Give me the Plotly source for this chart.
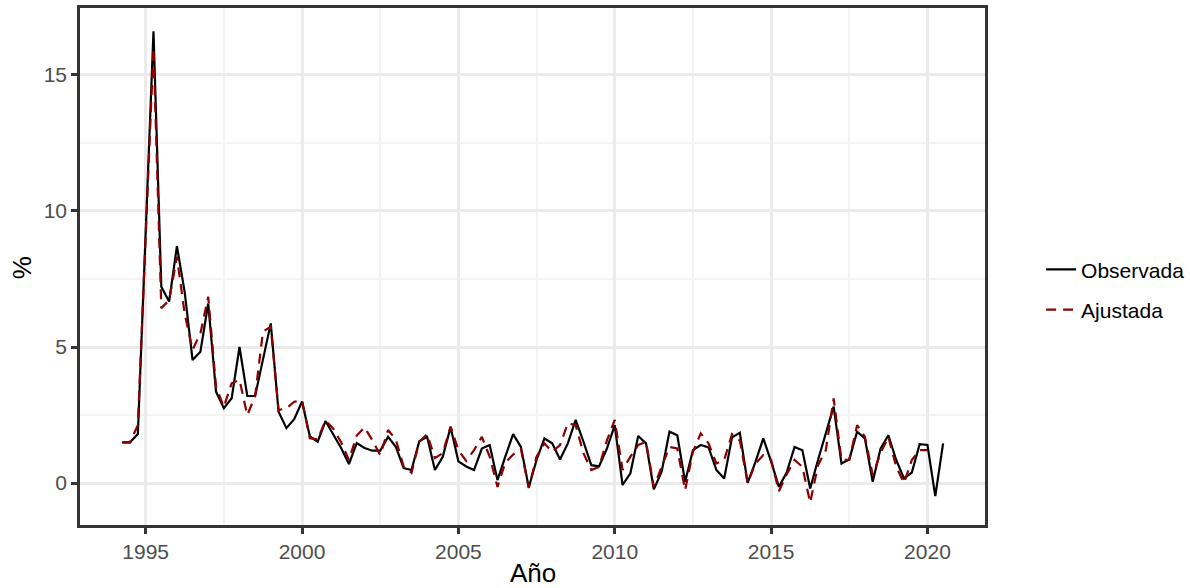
import plotly.graph_objects as go

# Quarterly series starting in 1994 Q2 (decimal year)
anio = [1994.25 + 0.25 * i for i in range(106)]

observada = [
    1.50, 1.50, 1.80, 9.30, 16.60, 7.22, 6.67, 8.71, 7.00, 4.52,
    4.83, 6.60, 3.36, 2.75, 3.12, 5.00, 3.20, 3.20, 4.50, 5.87,
    2.62, 2.02, 2.35, 3.00, 1.72, 1.52, 2.28, 1.76, 1.29, 0.70,
    1.47, 1.29, 1.19, 1.19, 1.70, 1.33, 0.55, 0.48, 1.54, 1.70,
    0.48, 0.97, 2.05, 0.80, 0.61, 0.48, 1.27, 1.40, 0.11, 0.97,
    1.80, 1.33, -0.16, 0.85, 1.64, 1.46, 0.87, 1.46, 2.32, 1.52,
    0.66, 0.62, 1.27, 2.13, -0.07, 0.36, 1.73, 1.46, -0.23, 0.42,
    1.89, 1.76, 0.05, 1.21, 1.40, 1.31, 0.48, 0.17, 1.68, 1.85,
    0.01, 0.78, 1.64, 0.80, -0.14, 0.40, 1.33, 1.21, -0.20, 0.85,
    1.83, 2.81, 0.72, 0.87, 1.89, 1.64, 0.05, 1.27, 1.76, 0.85,
    0.17, 0.39, 1.43, 1.40, -0.48, 1.46,
]

ajustada = [
    1.50, 1.50, 2.13, 9.00, 16.00, 6.43, 6.72, 8.32, 6.20, 4.90,
    5.50, 6.85, 3.54, 2.80, 3.67, 3.79, 2.50, 3.20, 5.56, 5.75,
    2.68, 2.75, 2.99, 3.03, 1.65, 1.60, 2.30, 2.00, 1.50, 0.85,
    1.75, 2.05, 1.57, 1.03, 1.95, 1.60, 0.61, 0.38, 1.52, 1.80,
    0.92, 1.10, 2.08, 1.21, 0.82, 1.21, 1.70, 0.97, -0.14, 0.75,
    1.05, 1.25, -0.18, 0.97, 1.46, 1.15, 1.40, 2.20, 2.13, 1.10,
    0.48, 0.60, 1.57, 2.32, 0.48, 0.97, 1.40, 1.52, -0.14, 0.60,
    1.33, 1.27, -0.26, 1.15, 1.83, 1.46, 0.72, 0.85, 1.80, 1.57,
    0.00, 0.72, 1.03, 0.85, -0.30, 0.33, 0.85, 0.60, -0.72, 0.66,
    1.21, 3.11, 0.85, 0.85, 2.13, 1.70, 0.30, 1.10, 1.70, 0.60,
    0.00, 0.85, 1.21, 1.21,
]

x_ticks = [1995, 2000, 2005, 2010, 2015, 2020]
y_ticks = [0, 5, 10, 15]

FONT = "Liberation Sans, Arial, sans-serif"

fig = go.Figure()
fig.add_trace(go.Scatter(
    x=anio, y=observada, mode="lines", name="Observada",
    line=dict(color="black", width=2.2), legendgroup="obs",
))
fig.add_trace(go.Scatter(
    x=anio[:len(ajustada)], y=ajustada, mode="lines", name="Ajustada",
    line=dict(color="#8B0000", width=2.2, dash="10px,7px"), legendgroup="aju",
))

grid_major = "#EBEBEB"
grid_minor = "#F3F3F3"
axis_common = dict(
    showline=True, mirror=True, linecolor="#333333", linewidth=2.5,
    ticks="outside", ticklen=6, tickwidth=2.5, tickcolor="#333333",
    tickfont=dict(family=FONT, size=21, color="#4D4D4D"),
    gridcolor=grid_major, gridwidth=3, zeroline=False, automargin=False,
)

fig.update_xaxes(
    range=[1992.9, 2021.84], tickvals=x_ticks,
    minor=dict(dtick=2.5, tick0=1992.5, showgrid=True, gridcolor=grid_minor, gridwidth=1.5, ticks=""),
    **axis_common,
)
fig.update_yaxes(
    range=[-1.54, 17.46], tickvals=y_ticks,
    minor=dict(dtick=2.5, tick0=-2.5, showgrid=True, gridcolor=grid_minor, gridwidth=1.5, ticks=""),
    **axis_common,
)

# Axis titles
fig.add_annotation(
    text="Año", xref="paper", yref="paper", x=0.5, y=-0.092,
    xanchor="center", yanchor="middle", showarrow=False,
    font=dict(family=FONT, size=26, color="black"),
)
fig.add_annotation(
    text="%", xref="paper", yref="paper", x=-0.064, y=0.497,
    xanchor="center", yanchor="middle", showarrow=False, textangle=-90,
    font=dict(family=FONT, size=26, color="black"),
)

fig.update_layout(
    width=1190, height=588,
    margin=dict(l=80, r=205, t=8, b=63, autoexpand=False),
    paper_bgcolor="white", plot_bgcolor="white",
    showlegend=True,
    legend=dict(
        x=1.062, y=0.455, xanchor="left", yanchor="middle",
        font=dict(family=FONT, size=21, color="black"),
        tracegroupgap=10, bgcolor="rgba(0,0,0,0)",
    ),
)

fig.write_html("out.html")
